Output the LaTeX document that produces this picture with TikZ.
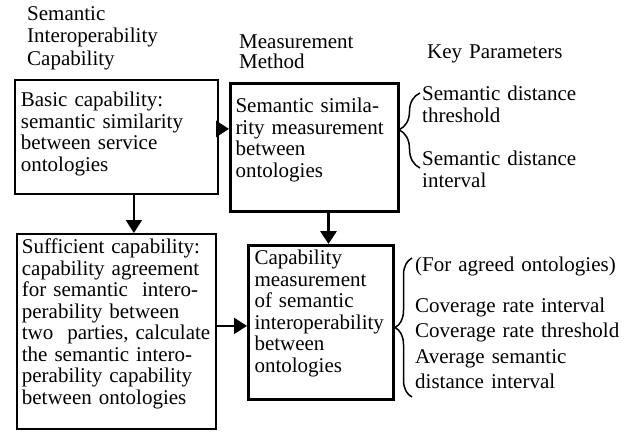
\documentclass[tikz,border=0pt]{standalone}
\usepackage{fontspec}
\setmainfont{Liberation Serif}
\usetikzlibrary{
arrows.meta,
decorations.pathreplacing % braces
}

\begin{document}
\begin{tikzpicture}[
    x=1pt, y=-1pt,
    >={Triangle[length=13pt,width=16pt]},
    box/.style={draw, line width=1.8pt, anchor=north west, align=left,
      inner xsep=5pt, inner ysep=0pt, font=\fontsize{21}{21.5}\selectfont},
    heavy/.style={box, line width=3pt},
    note/.style={anchor=base west, inner sep=0pt, align=left, text width=#1},
    note/.default=215pt,
    arr/.style={->, line width=2pt},
    curly/.style={decorate, line width=1.5pt, decoration={brace, amplitude=#1}}
  ]
  \useasboundingbox (0,0) rectangle (634,431);

  % column heads
  \node[note, font=\fontsize{21}{22.5}\selectfont] (sicap) at (27,20)
    {Semantic\\Interoperability\\Capability};
  \node[note, font=\fontsize{21}{20}\selectfont] (measmeth) at (239,48)
    {Measurement\\Method};
  \node[note, font=\fontsize{21}{22}\selectfont] (keypar) at (427,58)
    {Key Parameters};

  % boxes
  \node[box, inner xsep=6pt, text width=191pt, text height=27pt, text depth=87pt] (basic) at (14,79)
    {Basic capability:\\semantic similarity\\between service\\ontologies};
  \node[heavy, text width=158pt, text height=29pt, text depth=99pt] (simmeas) at (229,82)
    {Semantic simila-\\rity measurement\\between\\ontologies};
  \node[box, text width=189pt, text height=20pt, text depth=175pt] (sufficient) at (16,233)
    {Sufficient capability:\\capability agreement\\for semantic~ intero-\\perability between\\two~ parties, calculate\\the semantic intero-\\perability capability\\between ontologies};
  \node[heavy, inner xsep=6pt, text width=133pt, text height=19pt, text depth=135pt] (capmeas) at (247,244)
    {Capability\\measurement\\of semantic\\interoperability\\between\\ontologies};

  % parameters
  \node[note, font=\fontsize{21}{22}\selectfont] (dthr) at (422,100)
    {Semantic distance\\threshold};
  \node[note, font=\fontsize{21}{22}\selectfont] (dint) at (422,165)
    {Semantic distance\\interval};
  \node[note, font=\fontsize{21}{22}\selectfont] (agreed) at (415,271)
    {(For agreed ontologies)};
  \node[note, font=\fontsize{21}{25.5}\selectfont] (covrate) at (415,312)
    {Coverage rate interval\\Coverage rate threshold\\Average semantic\\distance interval};

  \draw[arr, line width=3pt] ([yshift=8pt]basic.east) -- ([yshift=8pt]basic.east -| simmeas.west);
  \draw[arr] ([xshift=17.5pt]basic.south) -- ([xshift=17.5pt]basic.south |- sufficient.north);
  \draw[arr, line width=3.8pt] ([xshift=7.5pt]capmeas.north |- simmeas.south) -- ([xshift=7.5pt]capmeas.north);
  \draw[arr] ([yshift=5.5pt]sufficient.east) -- ([yshift=5.5pt]sufficient.east -| capmeas.west);

  \draw[curly=21pt, decoration={aspect=0.51}] (420,168) -- (420,93);
  \draw[curly=17pt, decoration={aspect=0.5}] (412,397) -- (412,258);
\end{tikzpicture}
\end{document}
